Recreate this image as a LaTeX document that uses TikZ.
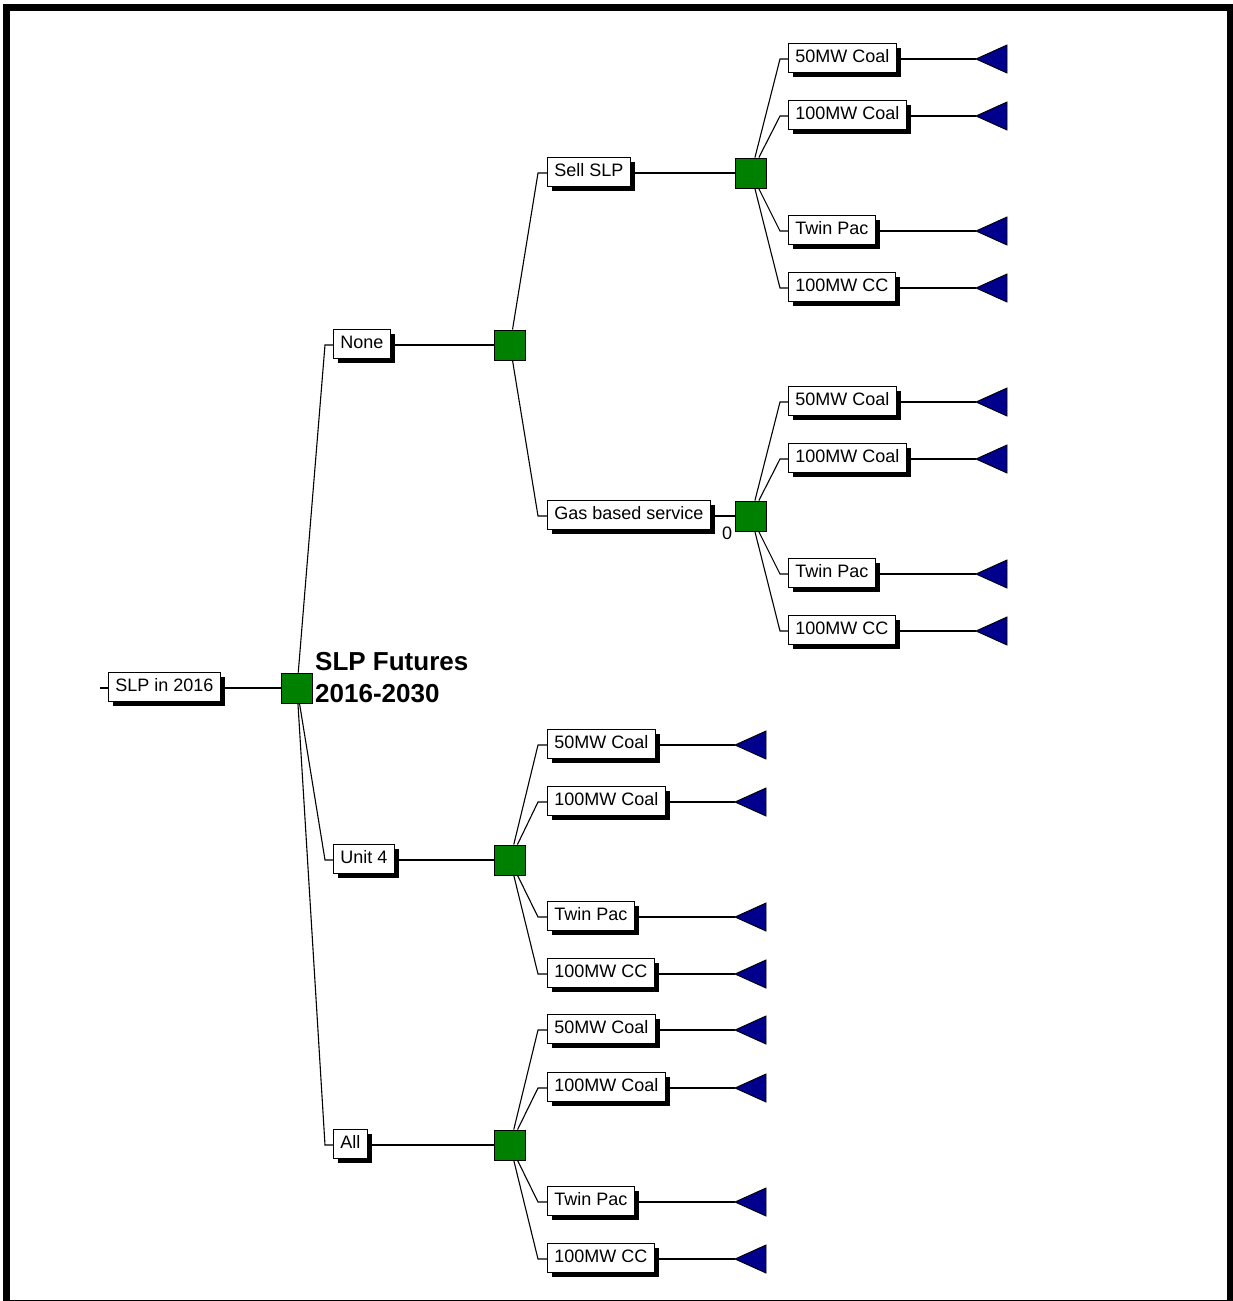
\documentclass[tikz,border=0pt]{standalone}
\usepackage{fontspec}
\setmainfont{Liberation Sans}
\usetikzlibrary{shadows}
\definecolor{decgreen}{RGB}{0,128,0}
\definecolor{termblue}{RGB}{0,0,140}
\tikzset{
 conn/.style={line width=1.1pt},
 lbl/.style={draw, line width=0.9pt, fill=white, anchor=west, font=\fontsize{18}{21}\selectfont, inner xsep=7pt, inner ysep=6pt, text height=13pt, text depth=4pt, drop shadow={shadow xshift=4.5pt, shadow yshift=-4.5pt, fill=black, opacity=1}},
 dec/.style={draw, line width=0.9pt, fill=decgreen, minimum width=31pt, minimum height=30pt, inner sep=0pt},
 term/.style={draw, line width=0.9pt, fill=termblue, line join=miter},
 ttl/.style={anchor=base west, font=\fontsize{26}{31}\selectfont\bfseries, inner sep=0pt},
 small/.style={font=\fontsize{18}{21}\selectfont, inner sep=0pt}
}
\newcommand\mkleaf[7]{%
 \coordinate (#1e) at (#5,#2);
 \coordinate (#1t) at (#7,#2);
 \node[lbl] (#1) at (#6,#2-1.5) {#3};
 \draw[conn] (#4) -- (#1e) -- (#1.west |- #1e);
 \draw[conn] (#1.east |- #1t) -- (#1t);
 \draw[term] (#1t) -- ++(31,-14) -- ++(0,28) -- cycle;
}
\newcommand\mkmid[7]{%
 \coordinate (#1e) at (#5,#2);
 \node[lbl] (#1) at (#6,#2-1.5) {#3};
 \node[dec] (#1s) at (#7,#2) {};
 \draw[conn] (#4) -- (#1e) -- (#1.west |- #1e);
 \draw[conn] (#1.east |- #1s) -- (#1s);
}
\begin{document}
\begin{tikzpicture}[x=1pt,y=-1pt]
\useasboundingbox (0,0) rectangle (1233,1301);
\draw[line width=7pt] (6.5,7) rectangle (1230.5,1303);
% root
\coordinate (stub) at (100,688);
\node[lbl] (root) at (108,686.5) {SLP in 2016};
\draw[conn] (stub) -- (root.west |- stub);
\node[dec] (rs) at (297,688) {};
\draw[conn] (root.east |- rs) -- (rs);
\node[ttl] (title1) at (315,670) {SLP Futures};
\node[ttl] (title2) at (315,702) {2016-2030};
% level 1
\mkmid{none}{345}{None}{rs}{325}{333}{510}
\mkmid{unit}{860}{Unit 4}{rs}{325}{333}{510}
\mkmid{all}{1145}{All}{rs}{325}{333}{510}
% level 2 under None
\mkmid{sell}{173}{Sell SLP}{nones}{538}{547}{751}
\mkmid{gas}{516}{Gas based service}{nones}{538}{547}{751}
\node[small] (zero) at (727,533) {0};
% leaves under Sell SLP
\mkleaf{sa}{59}{50MW Coal}{sells}{780}{788}{976}
\mkleaf{sb}{116}{100MW Coal}{sells}{780}{788}{976}
\mkleaf{sc}{231}{Twin Pac}{sells}{780}{788}{976}
\mkleaf{sd}{288}{100MW CC}{sells}{780}{788}{976}
% leaves under Gas based service
\mkleaf{ga}{402}{50MW Coal}{gass}{780}{788}{976}
\mkleaf{gb}{459}{100MW Coal}{gass}{780}{788}{976}
\mkleaf{gc}{574}{Twin Pac}{gass}{780}{788}{976}
\mkleaf{gd}{631}{100MW CC}{gass}{780}{788}{976}
% leaves under Unit 4
\mkleaf{ua}{745}{50MW Coal}{units}{538}{547}{735}
\mkleaf{ub}{802}{100MW Coal}{units}{538}{547}{735}
\mkleaf{uc}{917}{Twin Pac}{units}{538}{547}{735}
\mkleaf{ud}{974}{100MW CC}{units}{538}{547}{735}
% leaves under All
\mkleaf{aa}{1030}{50MW Coal}{alls}{538}{547}{735}
\mkleaf{ab}{1088}{100MW Coal}{alls}{538}{547}{735}
\mkleaf{ac}{1202}{Twin Pac}{alls}{538}{547}{735}
\mkleaf{ad}{1259}{100MW CC}{alls}{538}{547}{735}
\end{tikzpicture}
\end{document}
